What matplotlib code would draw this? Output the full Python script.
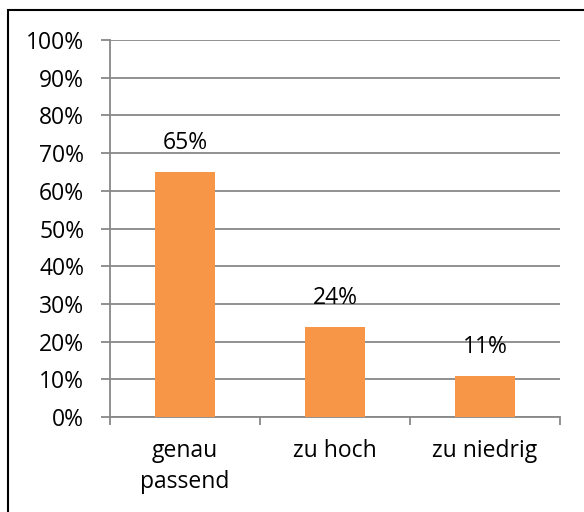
import matplotlib
matplotlib.use("Agg")
import matplotlib.pyplot as plt
from matplotlib.patches import Rectangle
from matplotlib.ticker import FixedLocator, PercentFormatter

# data
categories = ["genau\npassend", "zu hoch", "zu niedrig"]
shares = [65, 24, 11]
bar_labels = ["65%", "24%", "11%"]
y_ticks = list(range(0, 101, 10))

W, H = 584, 512
FS = 16.5
plt.rcParams["font.family"] = ["Open Sans", "DejaVu Sans"]

fig = plt.figure(figsize=(W / 100, H / 100), dpi=100)
ax = fig.add_axes([110 / W, 1 - 417 / H, 450 / W, 377 / H])

x = list(range(len(categories)))
ax.bar(x, shares, width=0.4, color="#F79646", zorder=3)
for xi, v, lab in zip(x, shares, bar_labels):
    ax.text(xi, v + 4.5, lab, ha="center", va="bottom", fontsize=FS, color="black")

ax.set_xlim(-0.5, len(categories) - 0.5)
ax.set_ylim(0, 100)
ax.set_yticks(y_ticks)
ax.yaxis.set_major_formatter(PercentFormatter(decimals=0))
ax.grid(axis="y", color="#888888", linewidth=1.3, zorder=0)

ax.set_xticks(x)
ax.set_xticklabels(categories, linespacing=1.35)
ax.xaxis.set_minor_locator(FixedLocator([i - 0.5 for i in range(len(categories) + 1)]))
ax.tick_params(axis="x", which="major", length=0, pad=16, labelsize=FS)
ax.tick_params(axis="x", which="minor", length=6, width=1.3, color="#888888")
ax.tick_params(axis="y", length=6.5, width=1.3, color="#888888", pad=12, labelsize=FS)

for side in ["top", "right"]:
    ax.spines[side].set_visible(False)
for side in ["left", "bottom"]:
    ax.spines[side].set_color("#888888")
    ax.spines[side].set_linewidth(1.3)

# outer frame (only left and top edges fall inside the image)
fig.patches.append(Rectangle((7.5 / W, -0.1), 1.2, 1 - 10 / H + 0.1,
                             transform=fig.transFigure, fill=False,
                             edgecolor="black", linewidth=1.5))

fig.savefig("out.png", dpi=100)
